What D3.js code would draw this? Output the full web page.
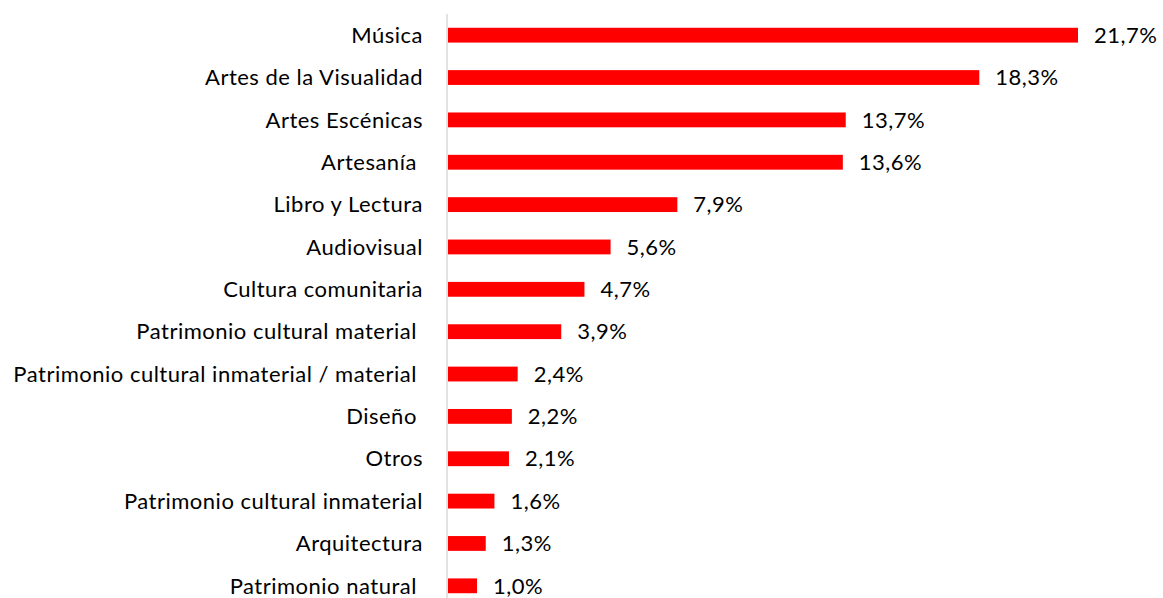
<!DOCTYPE html>
<html>
<head>
<meta charset="utf-8">
<script src="https://cdn.jsdelivr.net/npm/d3@7"></script>
<style>
  body { margin: 0; background: #fff; }
  text { font-family: "Lato", "Liberation Sans", sans-serif; fill: #000; white-space: pre; letter-spacing: 0.5px; }
</style>
</head>
<body>
<div id="container"></div>
<script>
// Data
var categories = ["Música", "Artes de la Visualidad", "Artes Escénicas", "Artesanía ", "Libro y Lectura",
                  "Audiovisual", "Cultura comunitaria", "Patrimonio cultural material ",
                  "Patrimonio cultural inmaterial / material ", "Diseño ", "Otros",
                  "Patrimonio cultural inmaterial", "Arquitectura", "Patrimonio natural "];
var values = [21.7, 18.3, 13.7, 13.6, 7.9, 5.6, 4.7, 3.9, 2.4, 2.2, 2.1, 1.6, 1.3, 1.0];
var valueLabels = ["21,7%", "18,3%", "13,7%", "13,6%", "7,9%", "5,6%", "4,7%", "3,9%",
                   "2,4%", "2,2%", "2,1%", "1,6%", "1,3%", "1,0%"];

var width = 1163,
    height = 598;

var svg = d3.select("#container")
            .append("svg")
              .attr("width", width)
              .attr("height", height);

// Scales
var x = d3.scaleLinear()
          .domain([0, 21.7])
          .range([448, 1078]);

var y = d3.scaleBand()
          .domain(categories)
          .range([14, 607])
          .paddingInner(0.65)
          .paddingOuter(0.325);

// Bars
svg.selectAll("rect.bar")
    .data(values)
    .enter()
    .append("rect")
      .attr("class", "bar")
      .attr("x", x(0))
      .attr("y", function(d, i) { return y(categories[i]); })
      .attr("width", function(d) { return x(d) - x(0); })
      .attr("height", y.bandwidth())
      .attr("fill", "#ff0000");

// Vertical axis line
svg.append("line")
    .attr("x1", 447).attr("x2", 447)
    .attr("y1", 14).attr("y2", height)
    .attr("stroke", "#d9d9d9")
    .attr("stroke-width", 1.5);

// Category labels
svg.selectAll("text.cat")
    .data(categories)
    .enter()
    .append("text")
      .attr("class", "cat")
      .attr("x", 423)
      .attr("y", function(d) { return y(d) + y.bandwidth() / 2; })
      .attr("dy", "0.35em")
      .attr("text-anchor", "end")
      .style("font-size", "22px")
      .text(function(d) { return d; });

// Value labels
svg.selectAll("text.val")
    .data(values)
    .enter()
    .append("text")
      .attr("class", "val")
      .attr("x", function(d) { return x(d) + 16; })
      .attr("y", function(d, i) { return y(categories[i]) + y.bandwidth() / 2; })
      .attr("dy", "0.35em")
      .style("font-size", "22px")
      .text(function(d, i) { return valueLabels[i]; });
</script>
</body>
</html>
